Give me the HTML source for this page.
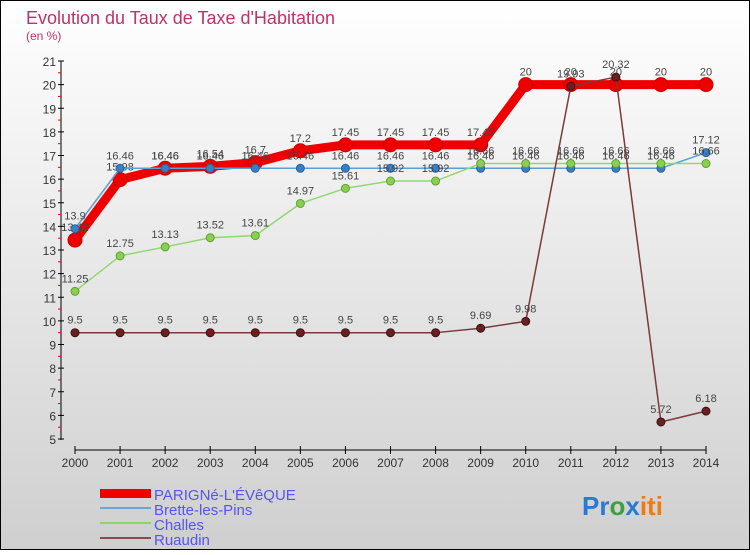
<!DOCTYPE html>
<html><head><meta charset="utf-8"><style>
html,body{margin:0;padding:0}
body{width:750px;height:550px;overflow:hidden;font-family:"Liberation Sans",sans-serif}
svg text{font-family:"Liberation Sans",sans-serif}
</style></head><body>
<svg id="chart" width="750" height="550" xmlns="http://www.w3.org/2000/svg">
<defs><linearGradient id="bg" x1="0" y1="0" x2="0" y2="1"><stop offset="0" stop-color="#ffffff"/><stop offset="1" stop-color="#cfcfcf"/></linearGradient></defs>
<rect x="0.5" y="0.5" width="749" height="549" fill="url(#bg)" stroke="#000"/>
<text x="26" y="24" font-size="18" fill="#c0306a">Evolution du Taux de Taxe d'Habitation</text>
<text x="26" y="40" font-size="12" fill="#c0306a">(en %)</text>
<g id="axes"></g><g id="series"></g>
<g>
<rect x="100" y="489" width="51" height="9" fill="#e00"/>
<line x1="100" y1="508" x2="151" y2="508" stroke="#6aa6d6" stroke-width="2"/>
<line x1="100" y1="523" x2="151" y2="523" stroke="#8fd46a" stroke-width="2"/>
<line x1="100" y1="538" x2="151" y2="538" stroke="#8a4a4a" stroke-width="2"/>
<text x="154" y="500" font-size="15" fill="#5555ee">PARIGNé-L'ÉVêQUE</text>
<text x="154" y="515" font-size="15" fill="#5555ee">Brette-les-Pins</text>
<text x="154" y="530" font-size="15" fill="#5555ee">Challes</text>
<text x="154" y="545" font-size="15" fill="#5555ee">Ruaudin</text>
</g>
<text x="582" y="515" font-size="26" font-weight="bold"><tspan fill="#2a7ad0">Pr</tspan><tspan fill="#3aa040">o</tspan><tspan fill="#2a7ad0">x</tspan><tspan fill="#f07a10">iti</tspan></text>
</svg>
<script>
const years=[2000,2001,2002,2003,2004,2005,2006,2007,2008,2009,2010,2011,2012,2013,2014];
const parigne=[13.42,15.98,16.46,16.54,16.7,17.2,17.45,17.45,17.45,17.45,20,20,20,20,20];
const brette=[13.9,16.46,16.46,16.46,16.46,16.46,16.46,16.46,16.46,16.46,16.46,16.46,16.46,16.46,17.12];
const challes=[11.25,12.75,13.13,13.52,13.61,14.97,15.61,15.92,15.92,16.66,16.66,16.66,16.66,16.66,16.66];
const ruaudin=[9.5,9.5,9.5,9.5,9.5,9.5,9.5,9.5,9.5,9.69,9.98,19.93,20.32,5.72,6.18];
const yTicks=[5,6,7,8,9,10,11,12,13,14,15,16,17,18,19,20,21];
const NS="http://www.w3.org/2000/svg";
const X=i=>75+i*(706-75)/(years.length-1);
const Y=v=>439-(v-5)*(439-61)/16;
function mk(t,a,p){const e=document.createElementNS(NS,t);for(const k in a)e.setAttribute(k,a[k]);p.appendChild(e);return e;}
const ax=document.getElementById('axes');
let l=mk('line',{x1:61,y1:61,x2:61,y2:440,stroke:'#000'},ax);


l=mk('line',{x1:75,y1:450,x2:706,y2:450,stroke:'#000'},ax);


yTicks.forEach(v=>{
  mk('line',{x1:58,y1:Y(v),x2:64,y2:Y(v),stroke:'#000'},ax);
  if(v<21)mk('line',{x1:58,y1:Y(v+0.5),x2:61,y2:Y(v+0.5),stroke:'#e00'},ax);
  const t=mk('text',{x:56,y:Y(v)+5,'font-size':12,'text-anchor':'end',fill:'#333'},ax);
  t.textContent=v;
  
  
});
years.forEach((y,i)=>{
  mk('line',{x1:X(i),y1:446,x2:X(i),y2:454,stroke:'#000'},ax);
  const t=mk('text',{x:X(i),y:467,'font-size':12,'text-anchor':'middle',fill:'#333'},ax);
  t.textContent=y;
  
  
});
const sg=document.getElementById('series');
function series(name,vals,color,w,r,dot,dotStroke){
  const g=mk('g',{},sg);
  
  
  const p=mk('polyline',{points:vals.map((v,i)=>X(i)+','+Y(v)).join(' '),fill:'none',stroke:color,'stroke-width':w,'stroke-linejoin':'round'},g);
  
  
  vals.forEach((v,i)=>{
    const c=mk('circle',{cx:X(i),cy:Y(v),r:r,fill:dot,stroke:dotStroke,'stroke-width':1},g);
    
    
    const t=mk('text',{x:X(i),y:Y(v)-9,'font-size':11,'text-anchor':'middle',fill:'#444'},g);
    t.textContent=v;
    
    
  });
}
series('parigne',parigne,'#ee0000',9,7,'#ee0000','#cc0000');
series('brette',brette,'#5a9fd6',1.5,4,'#3a80c0','#2a60a0');
series('challes',challes,'#90d870',1.5,4,'#88d050','#60a030');
series('ruaudin',ruaudin,'#7a3a3a',1.5,4,'#6a2020','#401010');
</script>
</body></html>
